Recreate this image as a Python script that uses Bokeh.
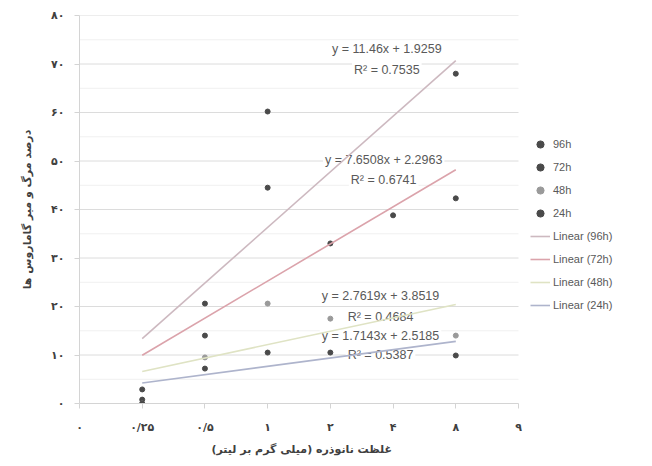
from bokeh.plotting import figure
from bokeh.models import (Range1d, FixedTicker, Legend, LegendItem, ColumnDataSource, Title)
from bokeh.core.properties import value
from bokeh.embed import file_html
from bokeh.resources import INLINE

# ---- data ----
x_pos = [1, 2, 3, 4, 5, 6]
x_tick_pos = [0, 1, 2, 3, 4, 5, 6, 7]
x_tick_labels = ["۰", "۰/۲۵", "۰/۵", "۱", "۲", "۴", "۸", "۹"]
y_tick_pos = [0, 10, 20, 30, 40, 50, 60, 70, 80]
y_minor_pos = [5, 15, 25, 35, 45, 55, 65, 75]
y_tick_labels = ["۰", "۱۰", "۲۰", "۳۰", "۴۰", "۵۰", "۶۰", "۷۰", "۸۰"]

series_names = ["96h", "72h", "48h", "24h"]
mort_96h = [2.9, 20.6, 60.2, 51.0, 50.0, 68.0]
mort_72h = [0.8, 14.0, 44.5, 33.0, 38.8, 42.3]
mort_48h = [0.0, 9.5, 20.6, 17.5, 18.0, 14.0]
mort_24h = [0.0, 7.2, 10.5, 10.5, 13.3, 9.9]

slopes = [11.46, 7.6508, 2.7619, 1.7143]
intercepts = [1.9259, 2.2963, 3.8519, 2.5185]
eq_texts = ["y = 11.46x + 1.9259", "y = 7.6508x + 2.2963",
            "y = 2.7619x + 3.8519", "y = 1.7143x + 2.5185"]
r2_texts = ["R² = 0.7535", "R² = 0.6741", "R² = 0.4684", "R² = 0.5387"]

x_title = "غلظت نانوذره (میلی گرم بر لیتر)"
y_title = "درصد مرگ و میر گاماروس ها"

# ---- styles ----
marker_colors = ["#4a4a4a", "#4a4a4a", "#9a9a9a", "#4a4a4a"]
line_colors = ["#cdb9c0", "#dba3ab", "#dfe3c4", "#aeb4cc"]
label_pos = [(4.9, 73.0, 68.7), (4.85, 50.3, 46.0), (4.8, 22.1, 17.9), (4.8, 14.0, 9.9)]

x_end = x_tick_pos[-1]
p = figure(width=652, height=466, output_backend="svg", toolbar_location=None,
           x_range=Range1d(0, x_end * 573 / 439), y_range=Range1d(0, 80),
           min_border_left=79, min_border_right=0, min_border_top=15,
           min_border_bottom=63)
p.outline_line_color = None
p.background_fill_color = "white"
p.border_fill_color = "white"

# axes
p.xaxis.ticker = FixedTicker(ticks=x_tick_pos)
p.xaxis.major_label_overrides = {t: l for t, l in zip(x_tick_pos, x_tick_labels)}
p.xaxis.bounds = (0, x_end)
p.yaxis.ticker = FixedTicker(ticks=y_tick_pos)
p.yaxis.major_label_overrides = {t: l for t, l in zip(y_tick_pos, y_tick_labels)}
for ax in (p.xaxis[0], p.yaxis[0]):
    ax.axis_line_color = "#d4d4d4"
    ax.major_tick_line_color = "#d4d4d4"
    ax.major_tick_out = 5
    ax.major_tick_in = 0
    ax.minor_tick_line_color = None
    ax.major_label_text_font = "DejaVu Sans"
    ax.major_label_text_font_size = "11px"
    ax.major_label_text_font_style = "bold"
    ax.major_label_text_color = "#404040"
    ax.axis_label_text_font = "DejaVu Sans"
    ax.axis_label_text_font_size = "11px"
    ax.axis_label_text_font_style = "bold"
    ax.axis_label_text_color = "#404040"
p.yaxis.axis_label = y_title
p.xaxis.major_label_standoff = 12
p.yaxis.major_label_standoff = 10
p.yaxis.axis_label_standoff = 14

# x-axis title, centred under the 0..x_end part of the axis
xt = Title(text=x_title, align="left", offset=132, text_font="DejaVu Sans",
           text_font_size="11px", text_font_style="bold", text_color="#404040",
           standoff=9)
p.add_layout(xt, "below")

p.xgrid.grid_line_color = None
p.ygrid.grid_line_color = None

# grid lines limited to the plotting area (0..x_end)
p.segment(x0=[0] * len(y_minor_pos), x1=[x_end] * len(y_minor_pos),
          y0=y_minor_pos, y1=y_minor_pos, line_color="#f0f0f0", line_width=1)
p.segment(x0=[0] * len(y_tick_pos[1:]), x1=[x_end] * len(y_tick_pos[1:]),
          y0=y_tick_pos[1:], y1=y_tick_pos[1:], line_color="#dcdcdc", line_width=1)

# scatter points
data = [mort_96h, mort_72h, mort_48h, mort_24h]
pt_rs = []
for i in range(4):
    r = p.scatter(x_pos, data[i], size=5, marker="circle",
                  fill_color=marker_colors[i], line_color=marker_colors[i])
    pt_rs.append(r)

# equation labels (opaque, like Excel's trendline labels)
for i in range(4):
    lx, ly1, ly2 = label_pos[i]
    src = ColumnDataSource(dict(x=[lx, lx], y=[ly1, ly2], t=[eq_texts[i], r2_texts[i]]))
    p.text(x="x", y="y", text="t", source=src, text_align="center",
           text_baseline="middle", text_font=value("Liberation Sans"),
           text_font_size="12.5px", text_color="#595959",
           background_fill_color="white", padding=2)

# trend lines (drawn on top so they cross the labels)
line_rs = []
for i in range(4):
    xs = [x_pos[0], x_pos[-1]]
    ys = [slopes[i] * xx + intercepts[i] for xx in xs]
    r = p.line(xs, ys, line_color=line_colors[i], line_width=1.6)
    line_rs.append(r)

items = [LegendItem(label=series_names[i], renderers=[pt_rs[i]]) for i in range(4)]
items += [LegendItem(label="Linear (%s)" % series_names[i], renderers=[line_rs[i]]) for i in range(4)]
legend = Legend(items=items, location=(451, 89), orientation="vertical")
legend.background_fill_alpha = 0
legend.border_line_color = None
legend.label_text_font = "Liberation Sans"
legend.label_text_font_size = "11px"
legend.label_text_color = "#595959"
legend.label_height = 18
legend.glyph_height = 18
legend.glyph_width = 20
legend.spacing = 5
legend.padding = 0
legend.margin = 0
legend.label_standoff = 3
p.add_layout(legend, "center")

open("out.html", "w").write(file_html(p, INLINE))
